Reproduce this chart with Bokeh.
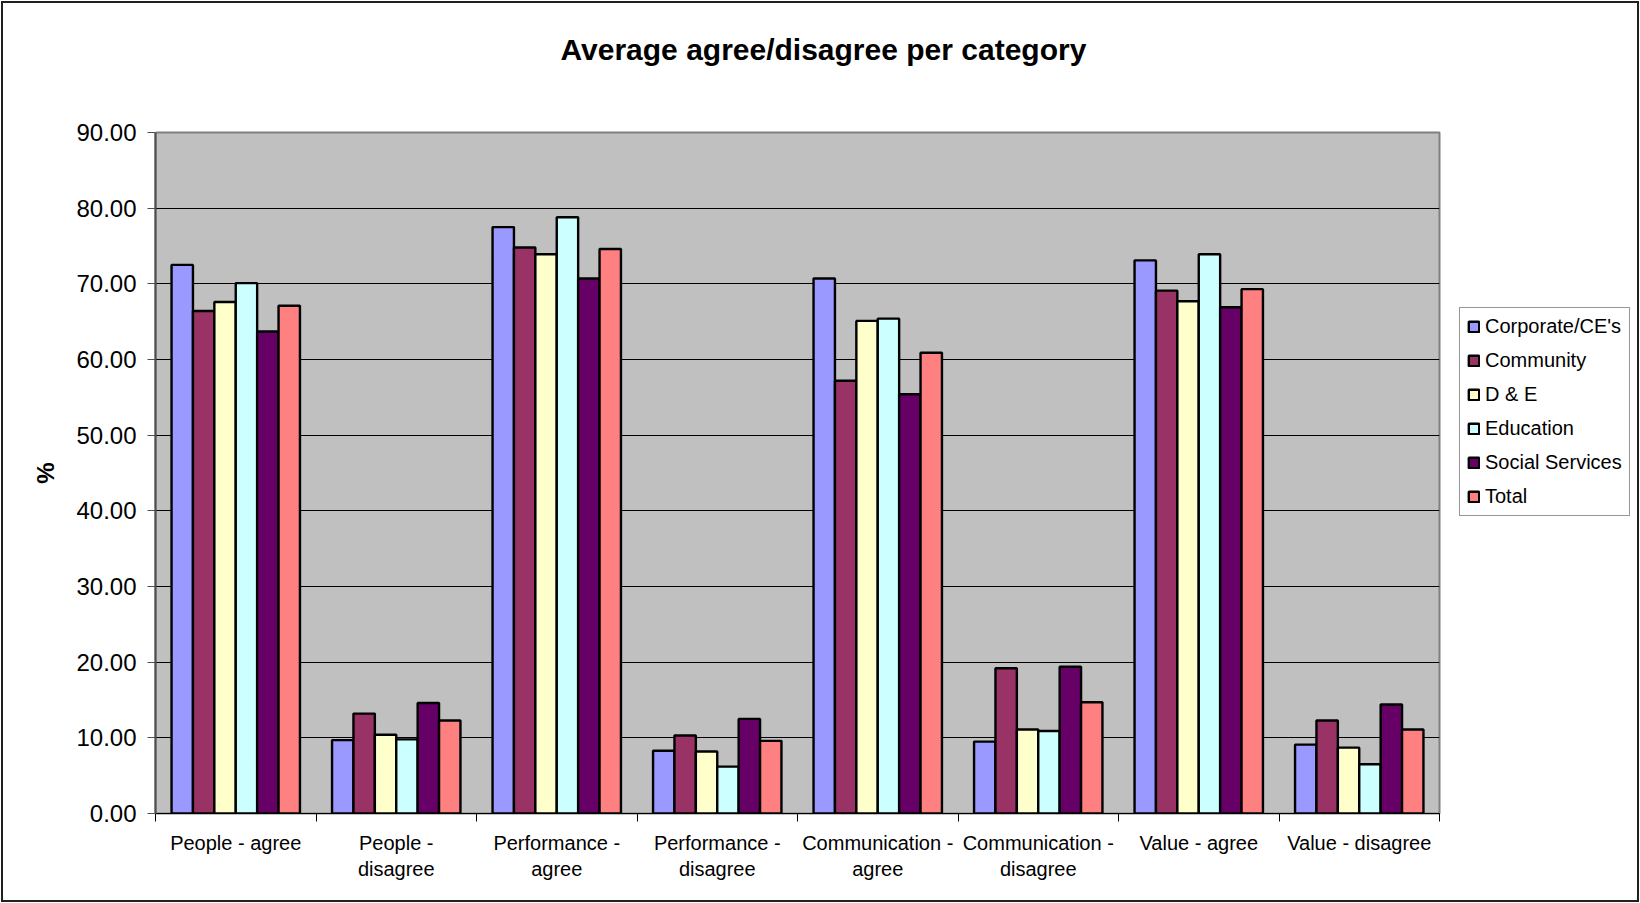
from bokeh.plotting import figure
from bokeh.layouts import row
from bokeh.models import (Range1d, FixedTicker, NumeralTickFormatter, Legend,
                          LegendItem, LinearAxis, Title)
from bokeh.embed import file_html
from bokeh.resources import INLINE

# Survey categories (x axis) and groups (series)
categories = [
    "People - agree",
    "People -\ndisagree",
    "Performance -\nagree",
    "Performance -\ndisagree",
    "Communication -\nagree",
    "Communication -\ndisagree",
    "Value - agree",
    "Value - disagree",
]
series_names = ["Corporate/CE's", "Community", "D & E", "Education", "Social Services", "Total"]

corporate = [72.5, 9.7, 77.5, 8.3, 70.7, 9.5, 73.1, 9.1]
community = [66.4, 13.2, 74.8, 10.3, 57.2, 19.2, 69.1, 12.3]
d_and_e = [67.6, 10.4, 73.9, 8.2, 65.1, 11.1, 67.7, 8.7]
education = [70.1, 9.8, 78.8, 6.2, 65.4, 10.9, 73.9, 6.5]
social_services = [63.7, 14.6, 70.7, 12.5, 55.4, 19.4, 66.9, 14.4]
total = [67.1, 12.3, 74.6, 9.6, 60.9, 14.7, 69.3, 11.1]

series_values = [corporate, community, d_and_e, education, social_services, total]
colors = ["#9999FF", "#993366", "#FFFFCC", "#CCFFFF", "#660066", "#FF8080"]
y_ticks = [0, 10, 20, 30, 40, 50, 60, 70, 80, 90]

FONT = "Liberation Sans"
BAR_LINE = 2.4

# ---- main chart ----
p = figure(
    width=1440, height=897, title=None,
    x_range=Range1d(0, len(categories)), y_range=Range1d(0, 90),
    output_backend="svg", toolbar_location=None,
    min_border_left=152, min_border_right=4,
    min_border_top=129, min_border_bottom=87,
)
p.background_fill_color = "#C0C0C0"
p.border_fill_color = "white"
p.outline_line_color = "#808080"
p.outline_line_width = 2

# Blank spacer axis between the plot area and the title: a single white
# tick at the left edge gives it its height, no line and no label
spacer = LinearAxis(ticker=FixedTicker(ticks=[0]), axis_line_color=None,
                    major_tick_line_color="white", minor_tick_line_color=None,
                    major_tick_out=67, major_tick_in=0, minor_tick_out=0,
                    minor_tick_in=0, major_label_standoff=0,
                    major_label_overrides={0: ""},
                    major_label_text_font_size="1px")
p.add_layout(spacer, "above")

# Title, stacked above the spacer
title = Title(
    text="Average agree/disagree per category", align="left", offset=405,
    text_font=FONT, text_font_size="30px", text_font_style="bold",
    text_color="black", standoff=0,
)
p.add_layout(title, "above")

# Clustered bars: 6 bars per category with 0.75 bar gap on each side
n = len(series_names)
bar_w = 1.0 / (n + 1.5)
for j, (vals, col) in enumerate(zip(series_values, colors)):
    xs = [i + 0.5 + (j - (n - 1) / 2) * bar_w for i in range(len(categories))]
    p.vbar(x=xs, top=vals, width=bar_w, bottom=0,
           fill_color=col, line_color="black", line_width=BAR_LINE)

# Y axis
yax = p.yaxis[0]
yax.ticker = FixedTicker(ticks=y_ticks)
yax.formatter = NumeralTickFormatter(format="0.00")
yax.major_label_text_font = FONT
yax.major_label_text_font_size = "24px"
yax.major_label_text_color = "black"
yax.major_tick_out = 8
yax.major_tick_in = 0
yax.minor_tick_out = 0
yax.minor_tick_in = 0
yax.major_label_standoff = 11
yax.axis_line_color = "#505050"
yax.axis_line_width = 2
yax.major_tick_line_color = "#505050"
yax.axis_label = "%"
yax.axis_label_text_font = FONT
yax.axis_label_text_font_size = "24px"
yax.axis_label_text_font_style = "bold"
yax.axis_label_text_color = "black"
yax.axis_label_standoff = 14

# X axis: labels at category centres, tick marks at category boundaries
xax = p.below[0]
centres = [i + 0.5 for i in range(len(categories))]
bounds = list(range(len(categories) + 1))
xax.ticker = FixedTicker(ticks=centres, minor_ticks=bounds)
xax.major_label_overrides = {c: lab for c, lab in zip(centres, categories)}
xax.major_label_text_font = FONT
xax.major_label_text_font_size = "20px"
xax.major_label_text_color = "black"
xax.major_tick_out = 0
xax.major_tick_in = 0
xax.minor_tick_out = 8
xax.minor_tick_in = 0
xax.minor_tick_line_color = "black"
xax.major_label_standoff = 10
xax.axis_line_color = "black"
xax.axis_line_width = 1

# Grid
p.xgrid.visible = False
p.ygrid.grid_line_color = "black"
p.ygrid.grid_line_width = 1

# ---- legend panel to the right of the chart ----
side = figure(
    width=194, height=897, x_axis_type=None, y_axis_type=None,
    output_backend="svg", toolbar_location=None,
    min_border=0, min_border_left=0, min_border_right=0,
    min_border_top=0, min_border_bottom=0,
)
side.outline_line_color = None
side.background_fill_color = "white"
side.border_fill_color = "white"

items = []
for name, vals, col in zip(series_names, series_values, colors):
    # legend-only renderers (hidden from the canvas)
    r = side.vbar(x=[0], top=vals[:1], width=0.1, fill_color=col,
                  line_color="black", line_width=BAR_LINE, visible=False)
    items.append(LegendItem(label=name, renderers=[r]))

legend = Legend(
    items=items, location=(16, 297),
    label_text_font=FONT, label_text_font_size="20px", label_text_color="black",
    glyph_width=13, glyph_height=13, label_height=20, label_standoff=5,
    spacing=11, padding=7, margin=0,
    border_line_color="#303030", border_line_width=1,
    background_fill_color="white", background_fill_alpha=1,
    inactive_fill_alpha=0,
)
side.add_layout(legend, "center")

layout = row(p, side, spacing=0)
layout.styles = {"border": "2px solid #202020", "margin": "1px"}

open("out.html", "w").write(file_html(layout, INLINE))
